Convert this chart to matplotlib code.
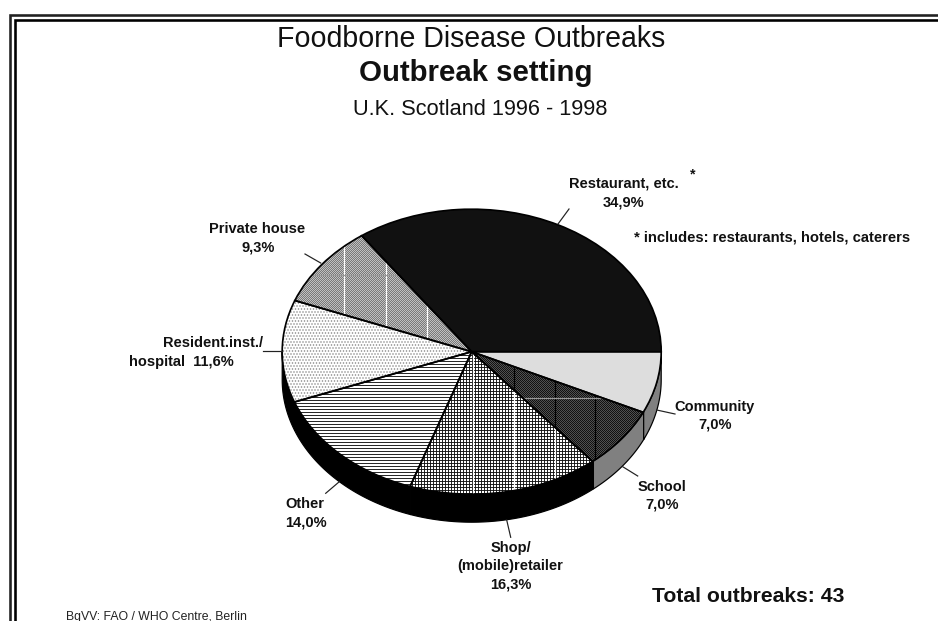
import numpy as np
from matplotlib import pyplot as plt

# dpi 72 keeps hatch tiles on whole pixels, so 1 pt == 1 px below
DPI = 72
plt.rcParams['font.family'] = ['Liberation Sans', 'DejaVu Sans']
plt.rcParams['hatch.linewidth'] = 0.9

W, H = 938, 621

# Slices, anticlockwise from 3 o'clock
settings = ['Restaurant', 'Private house', 'Resident.inst./hospital', 'Other',
            'Shop/(mobile)retailer', 'School', 'Community']
shares = [34.9, 9.3, 11.6, 14.0, 16.3, 7.0, 7.0]
face_colors = ['#111111', 'white', 'white', 'white', 'white', '#888888', '#dddddd']
hatch_colors = ['#111111', '#666666', '#888888', '#111111', '#111111', '#000000', '#dddddd']
hatches = ['', '/' * 12, '....', '----', '++++', '\\' * 12, '']
rim_colors = ['black', 'black', 'black', 'black', 'black', '#808080', '#808080']

# Label lines: text, centre x, baseline y (pixels)
label_lines = [
    ('Restaurant, etc.', 623.5, 188), ('34,9%', 624, 206.7),
    ('Private house', 257.5, 233.3), ('9,3%', 258, 251.7),
    ('Resident.inst./', 212.8, 347.3), ('hospital  11,6%', 181, 366),
    ('Other', 305, 508.3), ('14,0%', 305.5, 526.7),
    ('Shop/', 510.7, 552.3), ('(mobile)retailer', 510, 570), ('16,3%', 511, 588.3),
    ('School', 662, 490.7), ('7,0%', 662, 508.3),
    ('Community', 714.5, 410.7), ('7,0%', 715, 428.3),
]
leaders = [
    ([558, 569], [224, 209]), ([320.7, 305], [263, 254]), ([282, 263], [351, 351]),
    ([339.3, 325.7], [481.7, 493.3]), ([506.7, 510.7], [520, 537.3]),
    ([622.7, 637.7], [466.7, 476]), ([656.7, 675], [410, 414]),
]

# pie geometry in pixels
cx, cy, rx, ry, depth = 471.7, 351.7, 189.5, 142.5, 28
pad = 4

fig = plt.figure(figsize=(W / DPI, H / DPI), dpi=DPI)

# overlay in pixel coordinates for frame and text
over = fig.add_axes([0, 0, 1, 1], zorder=2)
over.set_xlim(0, W)
over.set_ylim(H, 0)
over.axis('off')
over.patch.set_alpha(0)

# pie axes: the unit circle becomes the tilted ellipse
x0, x1 = cx - rx - pad, cx + rx + pad
y0, y1 = cy - ry - pad, cy + ry + depth + pad
ax = fig.add_axes([x0 / W, 1 - y1 / H, (x1 - x0) / W, (y1 - y0) / H], zorder=1)
wedges, _ = ax.pie(shares, startangle=0, counterclock=True, radius=1,
                   colors=face_colors, wedgeprops={'linewidth': 0})
for w, hc, ht in zip(wedges, hatch_colors, hatches):
    w.set_edgecolor(hc)
    w.set_hatch(ht)
    w.set_zorder(3)
outlines, _ = ax.pie(shares, startangle=0, counterclock=True, radius=1,
                     wedgeprops={'fill': False, 'edgecolor': 'black', 'linewidth': 1.7})
for w in outlines:
    w.set_zorder(6)
ax.set_aspect('auto')
ax.set_xlim((x0 - cx) / rx, (x1 - cx) / rx)
ax.set_ylim((cy - y1) / ry, (cy - y0) / ry)
ax.axis('off')

# side of the disc, only the lower half shows
d = depth / ry
edges = np.cumsum([0] + shares) * 3.6
for a, b, col in zip(edges[:-1], edges[1:], rim_colors):
    a, b = max(a, 180), max(b, 180)
    if b <= a:
        continue
    t = np.radians(np.linspace(a, b, 80))
    xs = np.concatenate([np.cos(t), np.cos(t[::-1])])
    ys = np.concatenate([np.sin(t), np.sin(t[::-1]) - d])
    ax.fill(xs, ys, facecolor=col, edgecolor='black', linewidth=1.2, zorder=2)

# seams of the tiled fill pattern
def seam(wedge, xpix, ypix, col):
    for px in xpix:
        xd = (px - cx) / rx
        ln, = ax.plot([xd, xd], [-1.1, 1.1], color=col, lw=1.2, zorder=4, scalex=False, scaley=False)
        ln.set_clip_path(wedge)
    for py in ypix:
        yd = (cy - py) / ry
        ln, = ax.plot([-1.1, 1.1], [yd, yd], color='#999999', lw=1.2, zorder=4, scalex=False, scaley=False)
        ln.set_clip_path(wedge)

seam(wedges[1], [344, 385.7, 426.7], [275], 'white')
seam(wedges[4], [472.7, 514, 554.7], [], 'white')
seam(wedges[5], [514, 554.7, 595], [398], 'black')

# double frame, open on the right and at the bottom
for xf, yf, col in [(9.7, 14.7, '#222222'), (15.4, 19.9, 'black')]:
    over.plot([xf, xf, W + 5], [H + 5, yf, yf], color=col, lw=2.6,
              solid_joinstyle='miter', clip_on=False)

for xs, ys in leaders:
    over.plot(xs, ys, color='#222222', lw=1.2)
for txt, x, y in label_lines:
    over.text(x, y, txt, ha='center', va='baseline', fontsize=14.6, fontweight='bold', color='#111111')

over.text(471, 46.7, 'Foodborne Disease Outbreaks', ha='center', va='baseline', fontsize=28.5, color='#111111')
over.text(476, 81, 'Outbreak setting', ha='center', va='baseline', fontsize=29.4, fontweight='bold', color='#111111')
over.text(480.5, 115, 'U.K. Scotland 1996 - 1998', ha='center', va='baseline', fontsize=21.8, color='#111111')
over.text(693, 178, '*', ha='center', va='baseline', fontsize=14, fontweight='bold', color='#111111')
over.text(634, 241.7, '* includes: restaurants, hotels, caterers', ha='left', va='baseline', fontsize=14.7,
          fontweight='bold', color='#111111')
over.text(652, 602, 'Total outbreaks: 43', ha='left', va='baseline', fontsize=21.1, fontweight='bold', color='#111111')
over.text(65.7, 620, 'BgVV: FAO / WHO Centre, Berlin', ha='left', va='baseline', fontsize=12.2, color='#222222')

fig.savefig('out.png', dpi=DPI)
